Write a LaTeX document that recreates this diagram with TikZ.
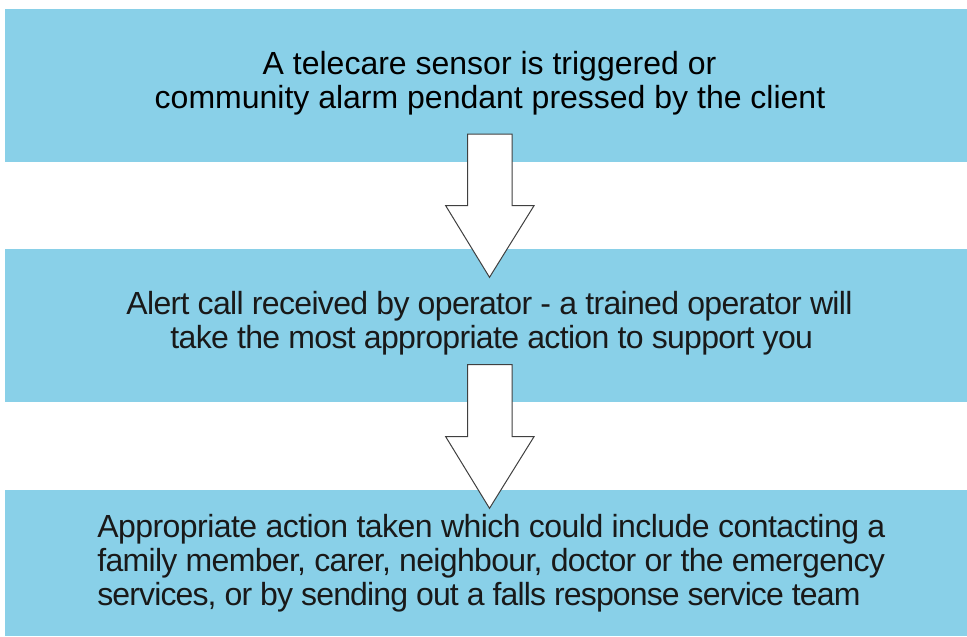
\documentclass[tikz,border=0pt]{standalone}
\usepackage{fontspec}
\setmainfont{Liberation Sans}
\newfontfamily\tightfont[LetterSpace=-2.1]{Liberation Sans}
\newfontfamily\tighterfont[LetterSpace=-2.7]{Liberation Sans}
\newfontfamily\lightfont[LetterSpace=-1.7]{Liberation Sans}
\definecolor{boxblue}{RGB}{137,208,232}
\definecolor{txt}{RGB}{25,25,25}
\begin{document}
\begin{tikzpicture}[x=0.75pt,y=-0.75pt,
  stagebox/.style={fill=boxblue,draw=none,inner sep=0pt},
  stagetext/.style={text=txt,inner sep=0pt,anchor=base,font=\fontsize{24pt}{26pt}\selectfont},
  tighttext/.style={stagetext,font=\fontsize{24pt}{26pt}\tightfont},
  blockarrow/.style={fill=white,draw=black!75,line width=0.75pt,line join=miter}]
\useasboundingbox (0,0) rectangle (967,636);
\node[stagebox,minimum width=962*0.75pt,minimum height=153*0.75pt] (b1) at (486,85.5) {};
\node[stagebox,minimum width=962*0.75pt,minimum height=152.4*0.75pt] (b2) at (486,325.5) {};
\node[stagebox,minimum width=962*0.75pt,minimum height=146*0.75pt] (b3) at (486,563) {};
% top box text
\node[stagetext,text=black] (t1a) at (489.5,74.3) {A telecare sensor is triggered or};
\node[stagetext,text=black] (t1b) at (490,108.5) {community alarm pendant pressed by the client};
% middle box text
\node[tighttext] (t2a) at (489.5,314.3) {Alert call received by operator - a trained operator will};
\node[tighttext] (t2b) at (491.7,348.3) {take the most appropriate action to support you};
% bottom box text
\node[stagetext,font=\fontsize{24pt}{26pt}\lightfont,anchor=base west] (t3a) at (97,537.3) {Appropriate action taken which could include contacting a};
\node[tighttext,anchor=base west] (t3b) at (97,571) {family member, carer, neighbour, doctor or the emergency};
\node[stagetext,font=\fontsize{24pt}{26pt}\tighterfont,anchor=base west] (t3c) at (97,605) {services, or by sending out a falls response service team};
% block arrows
\draw[blockarrow] (467.7,134) -- (512,134) -- (512,205.7) -- (534,205.7) -- (489.5,277.3) -- (445.7,205.7) -- (467.7,205.7) -- cycle;
\draw[blockarrow] (467.7,364.7) -- (512,364.7) -- (512,436.7) -- (534,436.7) -- (489.5,508.3) -- (445.7,436.7) -- (467.7,436.7) -- cycle;
\end{tikzpicture}
\end{document}
